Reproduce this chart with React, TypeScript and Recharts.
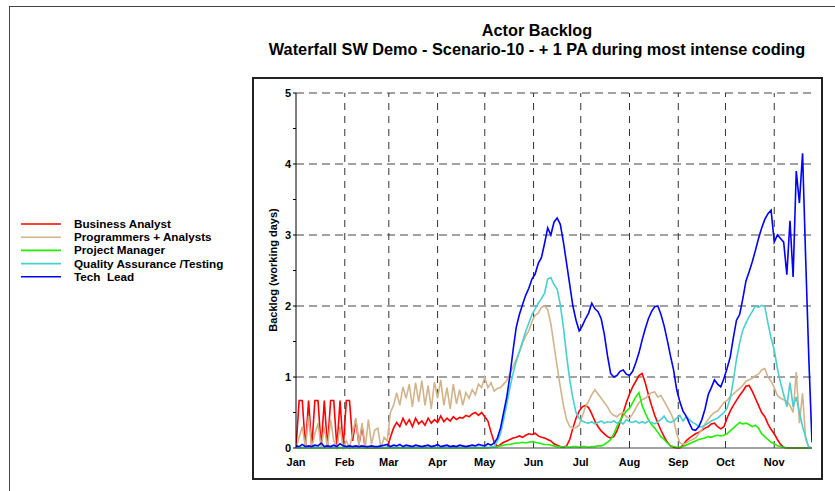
import React from "react";
import { LineChart, Line, XAxis, YAxis, ReferenceLine } from "recharts";

// one value every 2 days, starting Jan 1 (day 0) through day 328
const DAY_STEP = 2;

const monthNames = ["Jan", "Feb", "Mar", "Apr", "May", "Jun", "Jul", "Aug", "Sep", "Oct", "Nov"];
const monthStarts = [0, 31, 59, 90, 120, 151, 181, 212, 243, 273, 304];
const yTicks = [0, 0.5, 1, 1.5, 2, 2.5, 3, 3.5, 4, 4.5, 5];
const yGrid = [1, 2, 3, 4, 5];

const businessAnalyst = [
  0, 0.67, 0.67, 0, 0.67, 0, 0.67, 0.67, 0, 0.67,
  0, 0.67, 0.67, 0, 0.67, 0, 0.67, 0.67, 0.1, 0.4,
  0.05, 0.3, 0, 0, 0, 0, 0, 0, 0, 0,
  0.15, 0.28, 0.36, 0.3, 0.42, 0.33, 0.4, 0.3, 0.42, 0.34,
  0.38, 0.32, 0.42, 0.35, 0.4, 0.36, 0.45, 0.37, 0.42, 0.38,
  0.44, 0.4, 0.43, 0.42, 0.46, 0.44, 0.48, 0.5, 0.46, 0.5,
  0.44, 0.38, 0.22, 0.08, 0.02, 0.05, 0.08, 0.1, 0.12, 0.14,
  0.15, 0.17, 0.15, 0.18, 0.2, 0.19, 0.21, 0.17, 0.15, 0.14,
  0.12, 0.1, 0.06, 0.04, 0.02, 0.01, 0.03, 0.12, 0.28, 0.42,
  0.52, 0.58, 0.6, 0.57, 0.48, 0.38, 0.3, 0.24, 0.2, 0.16,
  0.14, 0.16, 0.24, 0.36, 0.5, 0.64, 0.76, 0.86, 0.94, 1.02,
  1.05, 0.92, 0.75, 0.6, 0.46, 0.35, 0.25, 0.16, 0.08, 0.03,
  0.01, 0, 0, 0.04, 0.1, 0.14, 0.17, 0.2, 0.22, 0.25,
  0.28, 0.3, 0.34, 0.35, 0.3, 0.27, 0.3, 0.42, 0.52, 0.6,
  0.67, 0.74, 0.8, 0.87, 0.88, 0.8, 0.7, 0.6, 0.5, 0.44,
  0.34, 0.26, 0.2, 0.12, 0.05, 0.01, 0, 0, 0, 0,
  0, 0, 0, 0, 0,
];

const programmers = [
  0, 0.15, 0.3, 0, 0.45, 0, 0.2, 0.35, 0, 0.3,
  0, 0.4, 0.1, 0, 0.3, 0, 0.1, 0, 0.2, 0.42,
  0.05, 0.35, 0, 0.4, 0.05, 0.25, 0.28, 0, 0.15, 0.1,
  0.5, 0.6, 0.78, 0.6, 0.86, 0.7, 0.9, 0.58, 0.92, 0.65,
  0.95, 0.6, 0.88, 0.55, 0.93, 0.7, 0.96, 0.6, 0.85, 0.55,
  0.9, 0.62, 0.82, 0.6, 0.78, 0.7, 0.82, 0.75, 0.9, 0.85,
  1.0, 0.85, 0.92, 0.8, 0.84, 0.85, 0.9, 0.95, 1.05, 1.15,
  1.25, 1.35, 1.48, 1.58, 1.65, 1.78, 1.87, 1.9, 1.98, 2.0,
  1.95, 1.75, 1.45, 1.15, 0.86, 0.6, 0.4, 0.3, 0.28, 0.29,
  0.32, 0.45, 0.58, 0.66, 0.75, 0.82, 0.76, 0.7, 0.64, 0.58,
  0.5, 0.46, 0.44, 0.48, 0.5, 0.44, 0.42, 0.48, 0.56, 0.64,
  0.68, 0.7, 0.74, 0.78, 0.79, 0.72, 0.74, 0.66, 0.58, 0.5,
  0.4, 0.2, 0.07, 0.05, 0.07, 0.1, 0.12, 0.14, 0.2, 0.26,
  0.34, 0.4, 0.46, 0.5, 0.52, 0.58, 0.64, 0.67, 0.72, 0.76,
  0.8, 0.84, 0.88, 0.94, 0.96, 0.98, 1.02, 1.04, 1.1, 1.12,
  1.0, 0.94, 0.85, 0.74, 0.7, 0.68, 0.66, 0.6, 0.5, 1.07,
  0.35, 0.77, 0.12, 0.02, 0,
];

const projectManager = [
  0, 0, 0, 0, 0, 0, 0, 0, 0, 0,
  0, 0, 0, 0, 0, 0, 0, 0, 0, 0,
  0, 0, 0, 0, 0, 0, 0, 0, 0, 0,
  0, 0, 0, 0, 0, 0, 0, 0, 0, 0,
  0, 0, 0, 0, 0, 0, 0, 0, 0, 0,
  0, 0, 0, 0, 0, 0, 0, 0, 0, 0,
  0, 0, 0.01, 0.01, 0.02, 0.03, 0.04, 0.05, 0.05, 0.06,
  0.07, 0.07, 0.08, 0.07, 0.08, 0.09, 0.08, 0.07, 0.06, 0.05,
  0.05, 0.04, 0.03, 0.02, 0.02, 0.01, 0.02, 0.01, 0.02, 0.02,
  0.01, 0.02, 0.02, 0.01, 0.02, 0.02, 0.03, 0.03, 0.05, 0.08,
  0.12, 0.2, 0.3, 0.39, 0.46, 0.52, 0.56, 0.64, 0.72, 0.78,
  0.6, 0.49, 0.4, 0.33, 0.28, 0.22, 0.16, 0.12, 0.07, 0.03,
  0.02, 0.01, 0.01, 0.02, 0.04, 0.06, 0.08, 0.1, 0.12, 0.13,
  0.14, 0.16, 0.15, 0.17, 0.18, 0.17, 0.18, 0.2, 0.24, 0.28,
  0.32, 0.36, 0.34, 0.35, 0.33, 0.3, 0.32, 0.28, 0.2, 0.16,
  0.12, 0.08, 0.06, 0.03, 0.02, 0.01, 0, 0, 0, 0,
  0, 0, 0, 0, 0,
];

const qualityAssurance = [
  0.01, 0.01, 0.01, 0.01, 0.01, 0.01, 0.01, 0.01, 0.01, 0.01,
  0.01, 0.01, 0.01, 0.01, 0.01, 0.01, 0.01, 0.01, 0.01, 0.01,
  0.01, 0.01, 0.01, 0.01, 0.01, 0.01, 0.01, 0.01, 0.01, 0.01,
  0.01, 0.01, 0.01, 0.01, 0.01, 0.01, 0.01, 0.01, 0.01, 0.01,
  0.01, 0.01, 0.01, 0.01, 0.01, 0.01, 0.01, 0.01, 0.01, 0.01,
  0.01, 0.01, 0.01, 0.01, 0.01, 0.01, 0.01, 0.01, 0.01, 0.01,
  0.01, 0.01, 0.01, 0.02, 0.1, 0.2, 0.4, 0.62, 0.85, 1.05,
  1.22, 1.36, 1.5, 1.64, 1.76, 1.88, 1.96, 2.04, 2.1, 2.18,
  2.38, 2.4, 2.3, 2.24, 2.02, 1.7, 1.3, 0.96, 0.7, 0.5,
  0.42, 0.38, 0.36, 0.35, 0.37, 0.34, 0.36, 0.38, 0.35, 0.37,
  0.36, 0.38, 0.35, 0.37, 0.34, 0.4, 0.37, 0.36, 0.38, 0.35,
  0.37, 0.35, 0.38, 0.36, 0.34, 0.37, 0.4, 0.45, 0.38, 0.36,
  0.38, 0.42, 0.46, 0.38, 0.44, 0.4, 0.36, 0.34, 0.3, 0.3,
  0.32, 0.35, 0.38, 0.4, 0.42, 0.46, 0.5, 0.56, 0.7, 0.95,
  1.25, 1.48, 1.66, 1.76, 1.85, 1.92, 2.0, 1.98, 2.01, 1.99,
  1.76, 1.55, 1.38, 1.12, 0.92, 0.75, 0.58, 0.92, 0.58, 0.72,
  0.5, 0.3, 0.15, 0, 0,
];

const techLead = [
  0.03, 0.02, 0.05, 0.02, 0.03, 0.02, 0.04, 0.03, 0.07, 0.02,
  0.03, 0.02, 0.04, 0.02, 0.06, 0.03, 0.02, 0.03, 0.02, 0.03,
  0.02, 0.03, 0.02, 0.02, 0.03, 0.02, 0.02, 0.03, 0.04, 0.05,
  0.02, 0.04, 0.03, 0.05, 0.02, 0.04, 0.03, 0.02, 0.04, 0.03,
  0.02, 0.03, 0.04, 0.02, 0.03, 0.05, 0.02, 0.03, 0.04, 0.02,
  0.03, 0.02, 0.04, 0.03, 0.02, 0.03, 0.04, 0.03, 0.05, 0.04,
  0.03, 0.06, 0.04, 0.07, 0.14, 0.28, 0.5, 0.72, 1.02, 1.38,
  1.7, 1.88, 2.02, 2.15, 2.25, 2.38, 2.45, 2.6, 2.68, 2.88,
  3.1, 3.0, 3.18, 3.24, 3.15, 2.9, 2.6, 2.3, 2.0, 1.8,
  1.65, 1.72, 1.82, 1.9, 2.04, 1.96, 1.92, 1.82, 1.6, 1.3,
  1.05, 1.0, 1.02, 1.08, 1.1, 1.04, 1.02, 1.08, 1.2, 1.34,
  1.52, 1.68, 1.82, 1.92, 1.99, 2.0, 1.88, 1.72, 1.52, 1.3,
  1.1, 0.82, 0.65, 0.52, 0.45, 0.35, 0.26, 0.25, 0.3, 0.4,
  0.55, 0.75, 0.85, 0.96, 0.9, 0.86, 0.98, 1.12, 1.28, 1.55,
  1.8, 1.88, 2.1, 2.35, 2.48, 2.62, 2.78, 2.95, 3.1, 3.22,
  3.3, 3.35, 2.9, 3.0, 2.95, 2.9, 2.44, 3.2, 2.41, 3.9,
  3.45, 4.15, 2.65, 1.25, 0.08,
];

const series = [
  { key: "ba", name: "Business Analyst", color: "#ff0000", values: businessAnalyst },
  { key: "pa", name: "Programmers + Analysts", color: "#d2b48c", values: programmers },
  { key: "pm", name: "Project Manager", color: "#22ee00", values: projectManager },
  { key: "qa", name: "Quality Assurance /Testing", color: "#48cfcf", values: qualityAssurance },
  { key: "tl", name: "Tech  Lead", color: "#0000ff", values: techLead },
];

const data = businessAnalyst.map((_, i) => {
  const row: Record<string, number> = { day: i * DAY_STEP };
  series.forEach((s) => {
    row[s.key] = s.values[i];
  });
  return row;
});

const FONT = "'Liberation Sans', Arial, sans-serif";

const YTick = ({ x, y, payload }: any) => {
  if (!Number.isInteger(payload.value)) return <g />;
  return (
    <text x={x} y={y} dy={4} textAnchor="end" fontSize={11} fontWeight="bold" fill="#000" fontFamily={FONT}>
      {payload.value}
    </text>
  );
};

export default function App() {
  return (
    <div style={{ position: "relative", width: 835, height: 491, background: "#fff", overflow: "hidden", fontFamily: FONT }}>
      <style>{`body{margin:0}`}</style>
      {/* outer page frame */}
      <div style={{ position: "absolute", left: 9, top: 6, width: 900, height: 600, border: "1px solid #444" }} />
      {/* chart frame */}
      <div style={{ position: "absolute", left: 252, top: 77, width: 567, height: 399, border: "2px solid #222" }} />

      <div style={{ position: "absolute", left: 0, top: 21, width: 1074, textAlign: "center", fontSize: 16.3, fontWeight: "bold", lineHeight: "19px" }}>
        Actor Backlog
        <br />
        Waterfall SW Demo - Scenario-10 - + 1 PA during most intense coding
      </div>

      <svg style={{ position: "absolute", left: 0, top: 0 }} width={835} height={491}>
        {series.map((s, i) => (
          <g key={s.key}>
            <line x1={21} x2={61} y1={224 + i * 13.2} y2={224 + i * 13.2} stroke={s.color} strokeWidth={1.6} />
            <text x={74} y={228 + i * 13.2} fontSize={11.7} fontWeight="bold" fontFamily={FONT} fill="#000" style={{ whiteSpace: "pre" }}>
              {s.name}
            </text>
          </g>
        ))}
        <text x={277} y={270} transform="rotate(-90 277 270)" textAnchor="middle" fontSize={11} fontWeight="bold" fontFamily={FONT} fill="#000">
          Backlog (working days)
        </text>
      </svg>

      <div style={{ position: "absolute", left: 0, top: 0 }}>
        <LineChart width={835} height={491} data={data} margin={{ top: 93, right: 23, bottom: 13, left: 256 }}>
          <XAxis
            dataKey="day"
            type="number"
            domain={[0, 328]}
            ticks={monthStarts}
            tickFormatter={(v: number) => monthNames[monthStarts.indexOf(v)]}
            tickLine={false}
            tickMargin={4}
            axisLine={{ stroke: "#444" }}
            tick={{ fontSize: 11, fontWeight: "bold", fill: "#000", fontFamily: FONT }}
            height={30}
            allowDataOverflow
          />
          <YAxis
            type="number"
            domain={[0, 5]}
            ticks={yTicks}
            tick={<YTick />}
            tickSize={3}
            tickMargin={2}
            tickLine={{ stroke: "#000" }}
            axisLine={{ stroke: "#000" }}
            width={40}
            interval={0}
          />
          {yGrid.map((v) => (
            <ReferenceLine key={`h${v}`} y={v} stroke="#444" strokeDasharray="8 5" />
          ))}
          {monthStarts.slice(1).map((d) => (
            <ReferenceLine key={`v${d}`} x={d} stroke="#333" strokeDasharray="7 6" />
          ))}
          {series.map((s) => (
            <Line
              key={s.key}
              dataKey={s.key}
              name={s.name}
              stroke={s.color}
              strokeWidth={1.6}
              dot={false}
              type="linear"
              isAnimationActive={false}
            />
          ))}
        </LineChart>
      </div>
    </div>
  );
}
